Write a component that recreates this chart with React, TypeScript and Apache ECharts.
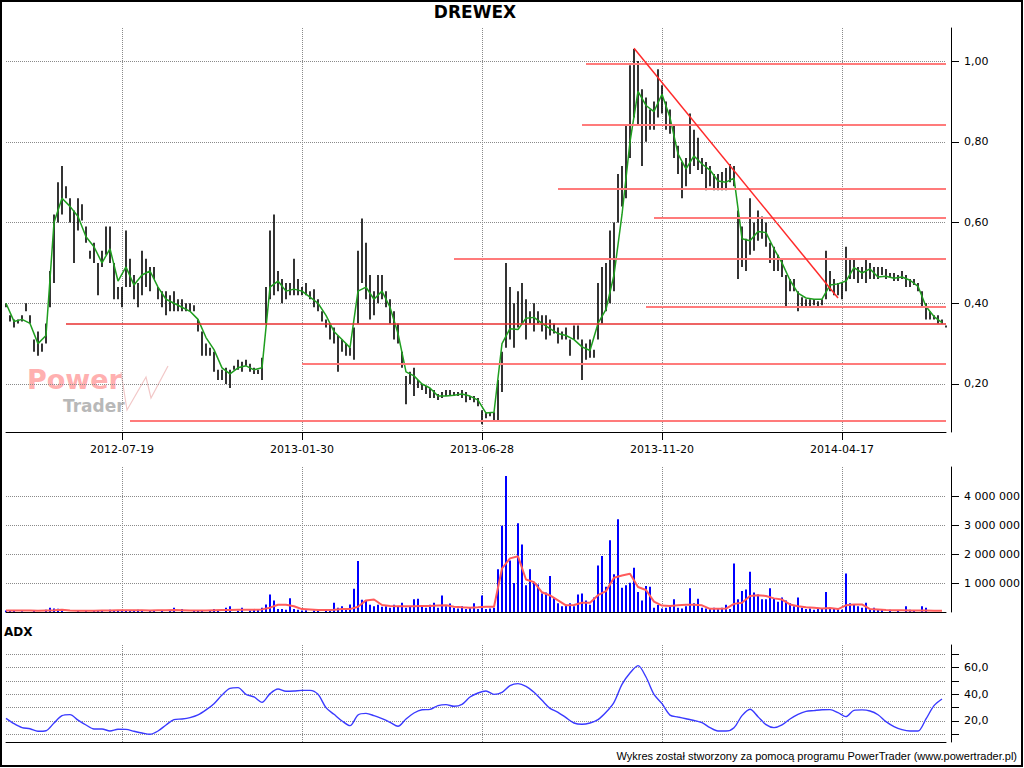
import React, { useEffect, useRef } from 'react';
import * as echarts from 'echarts';

// ---------- data ----------
const tickIdx = [29, 74, 119, 164, 209];
const tickLabels = ['2012-07-19', '2013-01-30', '2013-06-28', '2013-11-20', '2014-04-17'];

const high = [
  0.40, 0.37, 0.36, 0.36, 0.37, 0.40, 0.37, 0.31, 0.33, 0.30,
  0.35, 0.48, 0.62, 0.70, 0.74, 0.69, 0.66, 0.63, 0.66, 0.645,
  0.59, 0.53, 0.55, 0.50, 0.53, 0.59, 0.59, 0.50, 0.44, 0.44,
  0.58, 0.51, 0.47, 0.45, 0.53, 0.51, 0.49, 0.49, 0.44, 0.43,
  0.43, 0.42, 0.43, 0.41, 0.41, 0.40, 0.40, 0.395, 0.36, 0.33,
  0.30, 0.29, 0.28, 0.235, 0.235, 0.24, 0.235, 0.245, 0.26, 0.255,
  0.26, 0.25, 0.24, 0.235, 0.265, 0.44, 0.58, 0.62, 0.48, 0.46,
  0.45, 0.45, 0.51, 0.46, 0.44, 0.45, 0.43, 0.435, 0.41, 0.38,
  0.36, 0.35, 0.34, 0.32, 0.31, 0.30, 0.29, 0.34, 0.53, 0.61,
  0.55, 0.47, 0.43, 0.47, 0.47, 0.43, 0.41, 0.38, 0.35, 0.28,
  0.22, 0.23, 0.24, 0.21, 0.20, 0.195, 0.19, 0.185, 0.175, 0.18,
  0.185, 0.185, 0.18, 0.18, 0.185, 0.18, 0.17, 0.17, 0.165, 0.135,
  0.13, 0.13, 0.13, 0.21, 0.28, 0.50, 0.44, 0.40, 0.43, 0.45,
  0.41, 0.38, 0.40, 0.38, 0.37, 0.37, 0.36, 0.35, 0.34, 0.33,
  0.34, 0.31, 0.345, 0.345, 0.31, 0.30, 0.31, 0.285, 0.45, 0.49,
  0.50, 0.58, 0.60, 0.72, 0.74, 0.84, 0.99, 1.03, 1.00, 0.93,
  0.91, 0.88, 0.90, 0.98, 0.94, 0.90, 0.88, 0.84, 0.79, 0.75,
  0.76, 0.87, 0.83, 0.81, 0.76, 0.75, 0.74, 0.72, 0.72, 0.725,
  0.735, 0.745, 0.74, 0.63, 0.59, 0.56, 0.66, 0.60, 0.63, 0.615,
  0.60, 0.55, 0.54, 0.52, 0.51, 0.47, 0.46, 0.46, 0.43, 0.415,
  0.41, 0.41, 0.41, 0.405, 0.41, 0.53, 0.48, 0.46, 0.45, 0.45,
  0.54, 0.51, 0.51, 0.49, 0.49, 0.51, 0.50, 0.49, 0.49, 0.49,
  0.485, 0.475, 0.475, 0.47, 0.48, 0.47, 0.46, 0.46, 0.45, 0.43,
  0.40, 0.38, 0.37, 0.37, 0.36, 0.345,
];

const low = [
  0.39, 0.355, 0.34, 0.35, 0.355, 0.38, 0.35, 0.28, 0.27, 0.28,
  0.30, 0.39, 0.45, 0.60, 0.62, 0.66, 0.60, 0.50, 0.58, 0.605,
  0.55, 0.51, 0.50, 0.42, 0.49, 0.52, 0.50, 0.41, 0.41, 0.39,
  0.44, 0.44, 0.41, 0.39, 0.42, 0.44, 0.43, 0.46, 0.41, 0.39,
  0.37, 0.38, 0.38, 0.38, 0.38, 0.38, 0.38, 0.38, 0.33, 0.27,
  0.27, 0.27, 0.23, 0.21, 0.21, 0.20, 0.19, 0.235, 0.235, 0.23,
  0.245, 0.23, 0.225, 0.225, 0.21, 0.35, 0.41, 0.42, 0.43, 0.40,
  0.41, 0.42, 0.42, 0.42, 0.42, 0.42, 0.41, 0.39, 0.38, 0.355,
  0.34, 0.31, 0.30, 0.23, 0.28, 0.27, 0.27, 0.26, 0.35, 0.45,
  0.41, 0.36, 0.37, 0.40, 0.41, 0.39, 0.35, 0.31, 0.30, 0.24,
  0.15, 0.20, 0.17, 0.19, 0.185, 0.175, 0.165, 0.165, 0.16, 0.165,
  0.17, 0.17, 0.17, 0.17, 0.165, 0.155, 0.16, 0.155, 0.145, 0.10,
  0.115, 0.12, 0.11, 0.11, 0.18, 0.29, 0.31, 0.29, 0.34, 0.35,
  0.31, 0.35, 0.33, 0.35, 0.33, 0.31, 0.32, 0.325, 0.30, 0.31,
  0.31, 0.27, 0.31, 0.31, 0.21, 0.26, 0.265, 0.265, 0.31, 0.35,
  0.38, 0.40, 0.43, 0.60, 0.64, 0.66, 0.76, 0.86, 0.84, 0.74,
  0.80, 0.83, 0.83, 0.86, 0.87, 0.83, 0.82, 0.76, 0.72, 0.66,
  0.69, 0.72, 0.74, 0.73, 0.72, 0.68, 0.69, 0.68, 0.68, 0.68,
  0.68, 0.70, 0.69, 0.46, 0.49, 0.48, 0.52, 0.53, 0.555, 0.56,
  0.54, 0.50, 0.48, 0.48, 0.465, 0.39, 0.43, 0.43, 0.38, 0.39,
  0.39, 0.39, 0.395, 0.39, 0.395, 0.41, 0.43, 0.42, 0.42, 0.41,
  0.43, 0.46, 0.46, 0.45, 0.46, 0.45, 0.46, 0.46, 0.46, 0.47,
  0.46, 0.465, 0.455, 0.455, 0.46, 0.44, 0.44, 0.445, 0.43, 0.39,
  0.36, 0.36, 0.36, 0.35, 0.35, 0.34,
];

// moving average of price, one value every 2nd bar
const priceMa = [
  0.40, 0.355, 0.36, 0.35, 0.30, 0.32, 0.60, 0.66, 0.64, 0.615,
  0.565, 0.54, 0.50, 0.535, 0.455, 0.49, 0.445, 0.47, 0.48, 0.44,
  0.41, 0.40, 0.39, 0.38, 0.36, 0.315, 0.285, 0.24, 0.225, 0.24,
  0.245, 0.235, 0.24, 0.44, 0.455, 0.43, 0.435, 0.43, 0.415, 0.40,
  0.37, 0.33, 0.31, 0.29, 0.43, 0.44, 0.41, 0.43, 0.39, 0.325,
  0.23, 0.22, 0.20, 0.19, 0.17, 0.17, 0.172, 0.175, 0.17, 0.16,
  0.128, 0.13, 0.30, 0.337, 0.335, 0.363, 0.365, 0.35, 0.337, 0.325,
  0.32, 0.31, 0.292, 0.283, 0.35, 0.385, 0.47, 0.62, 0.80, 0.925,
  0.89, 0.875, 0.918, 0.86, 0.77, 0.733, 0.765, 0.745, 0.73, 0.703,
  0.70, 0.71, 0.56, 0.555, 0.578, 0.575, 0.535, 0.50, 0.457, 0.425,
  0.413, 0.41, 0.41, 0.445, 0.448, 0.455, 0.488, 0.475, 0.485, 0.465,
  0.467, 0.462, 0.465, 0.457, 0.442, 0.392, 0.367, 0.352,
];

// volume in thousands of shares, one per bar
const volumeK = [
  50, 40, 50, 0, 30, 0, 0, 40, 0, 0,
  80, 150, 120, 110, 100, 0, 0, 0, 50, 0,
  50, 0, 40, 50, 40, 0, 80, 70, 50, 70,
  40, 60, 50, 80, 70, 0, 40, 50, 0, 40,
  0, 50, 150, 0, 100, 0, 0, 70, 40, 60,
  0, 40, 100, 40, 0, 150, 200, 0, 40, 150,
  0, 50, 80, 100, 150, 260, 600, 400, 100, 100,
  80, 470, 100, 80, 50, 60, 0, 50, 60, 0,
  60, 50, 320, 150, 200, 120, 260, 800, 1760, 420,
  400, 250, 200, 250, 180, 200, 150, 250, 180, 320,
  150, 200, 440, 460, 200, 150, 250, 320, 150, 570,
  200, 290, 150, 120, 200, 100, 150, 300, 100, 570,
  100, 120, 150, 1470, 2970, 4690, 1780, 1000, 3060, 2330,
  920, 1470, 1000, 950, 640, 670, 1240, 490, 300, 200,
  250, 300, 200, 600, 640, 400, 250, 500, 1600, 1930,
  870, 2470, 1300, 3200, 840, 920, 1010, 1530, 690, 400,
  900, 870, 150, 240, 120, 150, 200, 440, 150, 120,
  200, 820, 300, 460, 150, 120, 100, 150, 100, 150,
  250, 100, 1670, 440, 720, 780, 1390, 670, 600, 440,
  440, 820, 450, 350, 500, 400, 300, 200, 500, 150,
  100, 120, 80, 100, 100, 690, 100, 120, 100, 80,
  1330, 300, 250, 200, 150, 320, 100, 150, 80, 100,
  0, 80, 0, 60, 0, 200, 80, 60, 0, 200,
  150, 0, 0, 0, 0, 0,
];

// volume moving average (thousands), one value every 2nd bar
const volumeMaK = [
  50, 50, 50, 50, 40, 50, 60, 80, 50, 40,
  40, 40, 50, 50, 60, 60, 60, 60, 50, 60,
  60, 70, 60, 50, 50, 50, 60, 70, 70, 80,
  80, 80, 90, 150, 250, 250, 200, 100, 90, 70,
  70, 80, 100, 100, 180, 400, 430, 240, 210, 200,
  200, 200, 210, 210, 220, 230, 180, 160, 150, 160,
  180, 180, 1500, 1850, 1920, 1120, 1030, 680, 570, 400,
  230, 240, 320, 320, 580, 720, 1180, 1260, 1320, 860,
  760, 360, 220, 210, 230, 250, 250, 230, 110, 110,
  120, 280, 320, 550, 580, 550, 470, 430, 260, 200,
  160, 150, 120, 140, 100, 230, 260, 260, 100, 90,
  70, 60, 60, 50, 50, 50, 40, 40,
];

// ADX, one value every 2nd bar
const adx = [
  22, 18, 15, 14.2, 12.3, 12.7, 18.5, 24, 24.8, 20.7,
  17, 14, 14, 12.5, 13.8, 13.7, 12.3, 11, 10, 12.5,
  17, 21, 21.5, 22.5, 24.5, 28.3, 33, 39.5, 44.5, 45,
  40, 38, 34, 40.5, 44, 42.3, 42.5, 43, 43, 40,
  30, 25, 20, 16.5, 24.5, 25.7, 24, 21.7, 19, 16,
  21.5, 26, 28.4, 28.7, 31.5, 32.3, 31, 32.5, 38, 41,
  42.5, 40, 41.5, 46.5, 48, 46, 41.5, 35.5, 29.5, 26.5,
  22.5, 18.5, 17.5, 18.5, 21, 26.5, 34, 47.5, 56, 61.5,
  53, 40, 33, 24.4, 23, 21.7, 20.4, 18.75, 15, 12.5,
  12.5, 15, 24, 28.8, 23.25, 17.3, 15, 17, 21.5, 25,
  27.2, 27.8, 28.4, 28.5, 26.3, 23.25, 28, 28.3, 27.5, 24.7,
  19.5, 15.8, 13.5, 12.5, 12.5, 21.5, 31.5, 36.5,
];

// horizontal support / resistance levels and the bar where each starts
const levelValues = [0.993, 0.842, 0.683, 0.611, 0.51, 0.391, 0.35, 0.25, 0.109];
const levelStart = [145, 144, 138, 162, 112, 160, 15, 74, 31];
const trendStart = [157, 1.032];
const trendEnd = [208, 0.413];

// ---------- chart ----------
const FONT = 'DejaVu Sans';

function isTick(i: number) {
  return tickIdx.indexOf(i) >= 0;
}

function App() {
  const ref = useRef<HTMLDivElement>(null);

  useEffect(() => {
    if (!ref.current) return;
    const chart = echarts.init(ref.current, null, { renderer: 'svg' });
    const N = high.length;
    const cats = high.map((_, i) => String(i));
    const lastIdx = N - 1;

    const dotted = { color: '#8a8a8a', type: 'dotted', width: 1 };

    const makeX = (gi: number, withLabels: boolean, offset: number) => ({
      type: 'category',
      gridIndex: gi,
      data: cats,
      boundaryGap: false,
      offset,
      axisLine: { show: true, lineStyle: { color: '#000', width: 1 } },
      axisTick: {
        show: withLabels,
        interval: (i: number) => isTick(i),
        length: 8,
        lineStyle: { color: '#000' },
      },
      axisLabel: {
        show: withLabels,
        interval: (i: number) => isTick(i),
        formatter: (_v: string, i: number) => {
          const k = tickIdx.indexOf(i);
          return k >= 0 ? tickLabels[k] : '';
        },
        margin: 12,
        color: '#000',
        fontFamily: FONT,
        fontSize: 11,
      },
      splitLine: { show: true, interval: (i: number) => isTick(i), lineStyle: dotted },
    });

    const makeY = (gi: number, min: number, max: number, fmt: (v: number) => string) => ({
      type: 'value',
      gridIndex: gi,
      position: 'right',
      min,
      max,
      offset: 5,
      axisLine: { show: true, lineStyle: { color: '#000', width: 1 } },
      axisTick: { show: true, length: 8, lineStyle: { color: '#000' } },
      axisLabel: {
        show: true,
        margin: 13,
        color: '#000',
        fontFamily: FONT,
        fontSize: 11,
        showMinLabel: false,
        showMaxLabel: false,
        formatter: fmt,
      },
      splitLine: { show: true, showMinLine: false, showMaxLine: false, lineStyle: dotted },
    });

    const priceFmt = (v: number) =>
      Math.abs(v * 5 - Math.round(v * 5)) < 1e-6 ? v.toFixed(2).replace('.', ',') : '';
    const volFmt = (v: number) => {
      if (v <= 0 || Math.abs(v % 1000000) > 1) return '';
      return String(Math.round(v)).replace(/\B(?=(\d{3})+(?!\d))/g, ' ');
    };
    const adxFmt = (v: number) =>
      Math.abs(v / 20 - Math.round(v / 20)) < 1e-6 ? v.toFixed(1).replace('.', ',') : '';

    const redLines: any[] = levelValues.map((lv, k) => [
      {
        coord: [levelStart[k], lv],
        lineStyle: {
          color: k === 6 ? '#e83030' : '#ff7b7b',
          width: k === 6 ? 1.5 : 2,
          type: 'solid',
        },
      },
      { coord: [lastIdx, lv] },
    ]);
    redLines.push([
      { coord: trendStart, lineStyle: { color: '#ff2a2a', width: 1.5, type: 'solid' } },
      { coord: trendEnd },
    ]);

    const option: any = {
      animation: false,
      backgroundColor: '#ffffff',
      textStyle: { fontFamily: FONT },
      grid: [
        { left: 6, top: 28, width: 940, height: 404, outerBoundsMode: 'none' },
        { left: 6, top: 467, width: 940, height: 145, outerBoundsMode: 'none' },
        { left: 6, top: 645, width: 940, height: 97, outerBoundsMode: 'none' },
      ],
      xAxis: [makeX(0, true, 0), makeX(1, false, 7), makeX(2, false, 0)],
      yAxis: [
        makeY(0, 0.081, 1.082, priceFmt),
        makeY(1, 0, 5000000, volFmt),
        makeY(2, 4.24, 77, adxFmt),
      ],
      series: [
        {
          type: 'custom',
          xAxisIndex: 0,
          yAxisIndex: 0,
          data: high.map((h, i) => [i, low[i], h]),
          encode: { x: 0, y: [1, 2] },
          renderItem: (_p: any, api: any) => {
            const a = api.coord([api.value(0), api.value(1)]);
            const b = api.coord([api.value(0), api.value(2)]);
            return {
              type: 'line',
              shape: { x1: a[0], y1: a[1], x2: b[0], y2: Math.min(b[1], a[1] - 1.5) },
              style: { stroke: '#000000', lineWidth: 1.6 },
            };
          },
          z: 2,
        },
        {
          type: 'line',
          xAxisIndex: 0,
          yAxisIndex: 0,
          data: priceMa.map((v, k) => [k * 2, v]),
          showSymbol: false,
          lineStyle: { color: '#1f9e1f', width: 1.5 },
          z: 3,
          markLine: {
            silent: true,
            symbol: ['none', 'none'],
            label: { show: false },
            data: redLines,
          },
        },
        {
          type: 'bar',
          xAxisIndex: 1,
          yAxisIndex: 1,
          data: volumeK.map((v) => v * 1000),
          barWidth: 2,
          itemStyle: { color: '#0000ff' },
        },
        {
          type: 'line',
          xAxisIndex: 1,
          yAxisIndex: 1,
          data: volumeMaK.map((v, k) => [k * 2, v * 1000]),
          showSymbol: false,
          lineStyle: { color: '#ff5c5c', width: 2 },
          z: 3,
        },
        {
          type: 'line',
          xAxisIndex: 2,
          yAxisIndex: 2,
          data: adx.map((v, k) => [k * 2, v]),
          showSymbol: false,
          smooth: 0.3,
          lineStyle: { color: '#3a3aff', width: 1.4 },
        },
      ],
      graphic: [
        {
          type: 'text',
          x: 27,
          y: 366,
          z: -10,
          style: { text: 'Power', fill: '#ffb0b0', font: 'bold 27px "DejaVu Sans"' },
        },
        {
          type: 'text',
          x: 63,
          y: 397,
          z: -10,
          style: { text: 'Trader', fill: '#b8b8b8', font: 'bold 17px "DejaVu Sans"' },
        },
        {
          type: 'polyline',
          z: -10,
          shape: { points: [[121, 372], [127, 410], [146, 377], [151, 398], [168, 366]] },
          style: { stroke: '#f2c8c8', lineWidth: 1.2, fill: 'none' },
        },
        {
          type: 'text',
          x: 475,
          y: 12,
          style: {
            text: 'DREWEX',
            fill: '#000',
            font: 'bold 17px "DejaVu Sans"',
            textAlign: 'center',
            textVerticalAlign: 'middle',
          },
        },
        {
          type: 'text',
          x: 4,
          y: 632,
          style: {
            text: 'ADX',
            fill: '#000',
            font: 'bold 12px "DejaVu Sans"',
            textVerticalAlign: 'middle',
          },
        },
        {
          type: 'text',
          x: 1017,
          y: 756,
          style: {
            text: 'Wykres został stworzony za pomocą programu PowerTrader (www.powertrader.pl)',
            fill: '#000',
            font: '11px "Liberation Sans"',
            textAlign: 'right',
            textVerticalAlign: 'middle',
          },
        },
        {
          type: 'rect',
          z: 100,
          shape: { x: 1, y: 1, width: 1021, height: 765 },
          style: { fill: 'none', stroke: '#000', lineWidth: 2 },
        },
      ],
    };

    chart.setOption(option);
    return () => {
      chart.dispose();
    };
  }, []);

  return (
    <div
      ref={ref}
      style={{ position: 'fixed', left: 0, top: 0, width: 1024, height: 768, background: '#fff' }}
    />
  );
}

export default App;
